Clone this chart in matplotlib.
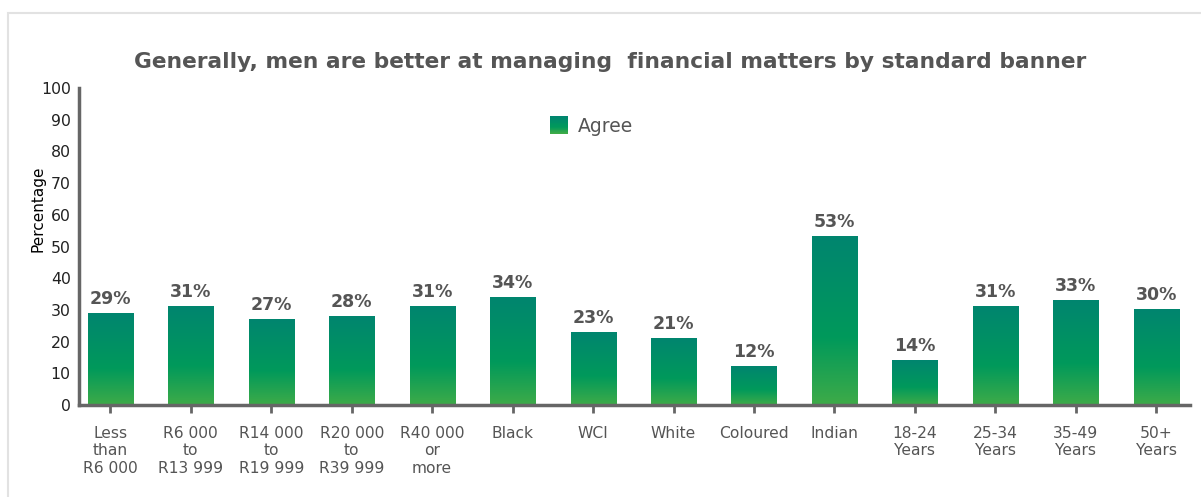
import numpy as np
import matplotlib
matplotlib.use("Agg")
import matplotlib.pyplot as plt
from matplotlib.colors import LinearSegmentedColormap
from matplotlib.patches import Rectangle
from matplotlib.legend_handler import HandlerBase

plt.rcParams["font.family"] = ["DejaVu Sans"]

categories = ["Less\nthan\nR6 000", "R6 000\nto\nR13 999", "R14 000\nto\nR19 999",
              "R20 000\nto\nR39 999", "R40 000\nor\nmore", "Black", "WCI", "White",
              "Coloured", "Indian", "18-24\nYears", "25-34\nYears", "35-49\nYears",
              "50+\nYears"]
agree = [29, 31, 27, 28, 31, 34, 23, 21, 12, 53, 14, 31, 33, 30]
series_name = "Agree"
title = "Generally, men are better at managing  financial matters by standard banner"

# bottom -> top colours of the bar fill
green_cmap = LinearSegmentedColormap.from_list(
    "agree", [(0.0, "#3eab48"), (0.4, "#00995b"), (1.0, "#00856f")])
grad = np.linspace(0, 1, 256).reshape(-1, 1)


class GradientSquare(HandlerBase):
    def create_artists(self, legend, orig_handle, xdescent, ydescent,
                       width, height, fontsize, trans):
        n = 20
        side = height * 1.35
        x0 = -xdescent + (width - side) / 2
        y0 = -ydescent + (height - side) / 2
        parts = []
        for i in range(n):
            parts.append(Rectangle((x0, y0 + side * i / n), side, side / n + 0.3,
                                   facecolor=green_cmap(i / (n - 1)),
                                   edgecolor="none", transform=trans))
        return parts


fig = plt.figure(figsize=(12.01, 4.97), dpi=100)
fig.patches.append(Rectangle((8 / 1201, -0.01), 1.0, 0.984, transform=fig.transFigure,
                             facecolor="white", edgecolor="#e2e2e2", lw=1.5, zorder=-5))

ax = fig.add_axes([0.0658, 0.185, 0.925, 0.638])
x = np.arange(len(categories))
bars = ax.bar(x, agree, width=0.56, color="none", edgecolor="none")
for b, v in zip(bars, agree):
    x0 = b.get_x()
    ax.imshow(grad, cmap=green_cmap, origin="lower", aspect="auto",
              extent=(x0, x0 + b.get_width(), 0, b.get_height()), zorder=2)
    ax.annotate(f"{v}%", (b.get_x() + b.get_width() / 2, b.get_height()),
                xytext=(0, 4), textcoords="offset points", ha="center", va="bottom",
                fontsize=12.5, fontweight="bold", color="#555555")

ax.set_xlim(-0.39, 13.42)
ax.set_ylim(0, 100)
ax.set_yticks(range(0, 101, 10))
ax.set_xticks(x)
ax.set_xticklabels(categories, fontsize=11.2, color="#555555", linespacing=1.2)
ax.tick_params(axis="y", length=0, labelsize=11.3, labelcolor="#222222", pad=6)
ax.tick_params(axis="x", length=6, width=2, color="#666666", pad=9)
for side in ["top", "right"]:
    ax.spines[side].set_visible(False)
for side in ["left", "bottom"]:
    ax.spines[side].set_color("#666666")
    ax.spines[side].set_linewidth(2.5)

ax.set_ylabel("Percentage", fontsize=11, color="black")
ax.yaxis.set_label_coords(-0.03, 0.62)

fig.text(0.508, 0.875, title, ha="center", va="center", fontsize=15.7,
         fontweight="bold", color="#555555")

handle = Rectangle((0, 0), 1, 1)
fig.legend([handle], [series_name], handler_map={Rectangle: GradientSquare()},
           loc="center", bbox_to_anchor=(0.492, 0.746), frameon=False,
           fontsize=13.5, labelcolor="#555555", handlelength=1.1, handletextpad=0.45)

fig.savefig("out.png", dpi=100)
